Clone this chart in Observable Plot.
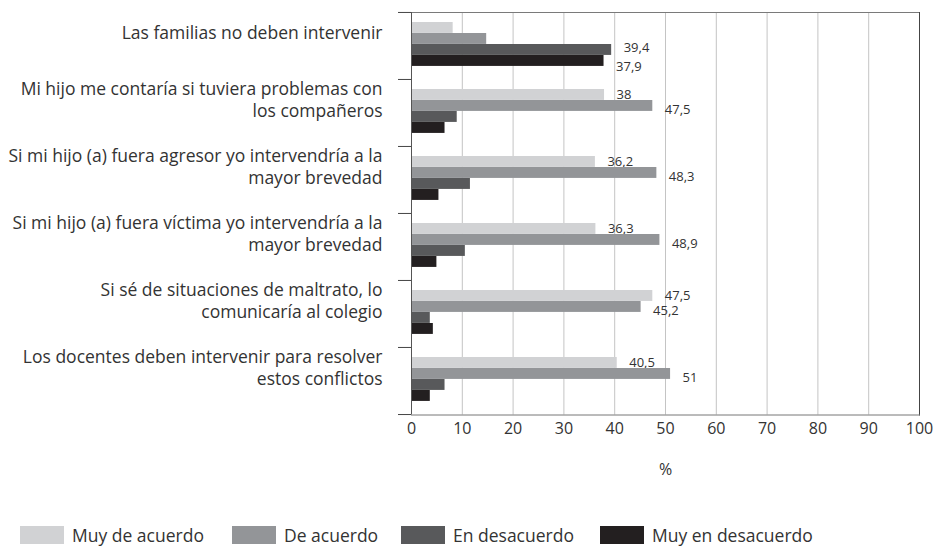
<!DOCTYPE html>
<html>
<head>
<meta charset="utf-8">
<script src="https://cdn.jsdelivr.net/npm/d3@7"></script>
<script src="https://cdn.jsdelivr.net/npm/@observablehq/plot@0.6"></script>
<style>
  html, body { margin: 0; padding: 0; background: #fff; }
  body { width: 937px; height: 549px; overflow: hidden; font-family: "Open Sans", sans-serif; color: #333; }
  #legend { position: relative; height: 20px; margin-top: 26px; }
  .item { position: absolute; top: 0; display: flex; align-items: center; font-size: 17.5px; color: #333; line-height: 18px; }
  .sw { width: 44px; height: 18px; margin-right: 8px; }
</style>
</head>
<body>
<div id="chart"></div>
<div id="legend"></div>
<script>
const categories = [
  "Las familias no deben intervenir",
  "Mi hijo me contaría si tuviera problemas con\nlos compañeros",
  "Si mi hijo (a) fuera agresor yo intervendría a la\nmayor brevedad",
  "Si mi hijo (a) fuera víctima yo intervendría a la\nmayor brevedad",
  "Si sé de situaciones de maltrato, lo\ncomunicaría al colegio",
  "Los docentes deben intervenir para resolver\nestos conflictos"
];
const seriesNames = ["Muy de acuerdo", "De acuerdo", "En desacuerdo", "Muy en desacuerdo"];
const muyDeAcuerdo = [8.2, 38, 36.2, 36.3, 47.5, 40.5];
const deAcuerdo = [14.8, 47.5, 48.3, 48.9, 45.2, 51];
const enDesacuerdo = [39.4, 9.0, 11.6, 10.6, 3.7, 6.6];
const muyEnDesacuerdo = [37.9, 6.6, 5.4, 5.0, 4.3, 3.7];
const xTicks = [0, 10, 20, 30, 40, 50, 60, 70, 80, 90, 100];
const seriesColors = ["#d1d2d4", "#939598", "#58595b", "#231f20"];

const seriesValues = [muyDeAcuerdo, deAcuerdo, enDesacuerdo, muyEnDesacuerdo];
const rows = [];
seriesNames.forEach((s, si) => {
  categories.forEach((c, ci) => {
    rows.push({category: c, series: s, value: seriesValues[si][ci], si});
  });
});

const width = 937, height = 500;
const marginTop = 12, marginBottom = 85.5, marginLeft = 411, marginRight = 18;
const bw = (height - marginTop - marginBottom) / categories.length;
const barH = 11, topPad = 10;
const labelShift = [0, 4, -2, 6];
const fmt = v => String(v).replace(".", ",");

const marks = [];
// gridlines
marks.push(Plot.ruleX(xTicks.filter(t => t > 0 && t < 100), {stroke: "#c4c4c4", strokeWidth: 1}));
// bars and value labels
seriesNames.forEach((s, i) => {
  marks.push(Plot.barX(rows.filter(d => d.series === s), {
    x: "value", y: "category", fill: "series",
    insetTop: topPad + barH * i,
    insetBottom: bw - topPad - barH * (i + 1)
  }));
  marks.push(Plot.text(rows.filter(d => d.series === s && d.value > 20), {
    x: "value", y: "category", text: d => fmt(d.value),
    textAnchor: "start", dx: 12, dy: -bw / 2 + topPad + barH * i + barH / 2 + labelShift[i],
    fontSize: 13, fill: "#333"
  }));
});
// frame lines
marks.push(Plot.frame({anchor: "top", stroke: "#7a7a7a"}));
marks.push(Plot.frame({anchor: "right", stroke: "#444"}));
marks.push(Plot.frame({anchor: "bottom", stroke: "#777"}));
marks.push(Plot.ruleX([0], {stroke: "#555"}));
// y boundary ticks
marks.push(Plot.axisY({ticks: categories, tickSize: 13, dy: -bw / 2, tickFormat: () => "", stroke: "#444"}));
marks.push(Plot.axisY({ticks: [categories[categories.length - 1]], tickSize: 13, dy: bw / 2, tickFormat: () => "", stroke: "#444"}));
// category labels
marks.push(Plot.axisY({ticks: categories, tickSize: 0, tickPadding: 29, dy: -14, fontSize: 17.5, lineHeight: 1.26, fill: "#333", textAnchor: "end"}));
// x axis labels
marks.push(Plot.axisX({ticks: xTicks, tickSize: 0, tickPadding: 8, fontSize: 16, fill: "#333"}));
marks.push(Plot.text(["%"], {frameAnchor: "bottom", dy: 60, fontSize: 16, fill: "#333"}));

const chart = Plot.plot({
  width, height, marginTop, marginBottom, marginLeft, marginRight,
  style: {fontFamily: "Open Sans", color: "#333", background: "#fff"},
  x: {domain: [0, 100], label: null},
  y: {domain: categories, padding: 0, label: null},
  color: {domain: seriesNames, range: seriesColors},
  marks
});
document.getElementById("chart").appendChild(chart);

const legendLefts = [20, 232, 401, 600];
const legend = document.getElementById("legend");
seriesNames.forEach((s, i) => {
  const item = document.createElement("div");
  item.className = "item";
  item.style.left = legendLefts[i] + "px";
  const sw = document.createElement("div");
  sw.className = "sw";
  sw.style.background = seriesColors[i];
  const t = document.createElement("span");
  t.textContent = s;
  item.appendChild(sw);
  item.appendChild(t);
  legend.appendChild(item);
});
</script>
</body>
</html>
